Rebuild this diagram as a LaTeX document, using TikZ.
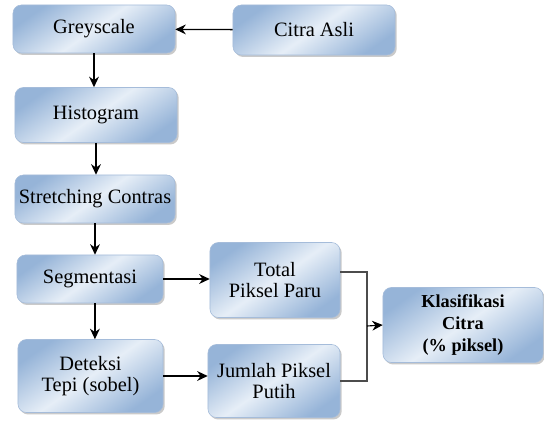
\documentclass[tikz,border=0pt]{standalone}
\usepackage{fontspec}
\setmainfont{Liberation Serif}
\usetikzlibrary{arrows.meta,shadows}
\definecolor{edgeblue}{RGB}{150,180,216}
\definecolor{paleblue}{RGB}{230,238,247}
\definecolor{rimblue}{RGB}{165,188,218}

\begin{document}
\begin{tikzpicture}[
    x=0.025cm, y=-0.025cm,
    block/.style={rectangle, rounded corners=6pt, draw=rimblue, line width=0.4pt,
        top color=edgeblue, bottom color=edgeblue, middle color=paleblue, shading angle=35,
        drop shadow={shadow xshift=1.2pt, shadow yshift=-1.4pt, opacity=0.35, fill=black!60},
        align=center, inner sep=0pt, font=\fontsize{14.5}{15.5}\selectfont},
    arrow/.style={-{Stealth[length=7.5pt,width=7pt]}, line width=0.9pt},
    link/.style={line width=0.8pt, draw=black!70}
]
    \useasboundingbox (0,0) rectangle (544,420);

    % Main column
    \node[block, minimum width=4.05cm, minimum height=1.2cm] (grey) at (94,29) {Greyscale};
    \node[block, minimum width=4.05cm, minimum height=1.25cm] (asli) at (314,30) {Citra Asli};
    \node[block, minimum width=4.05cm, minimum height=1.375cm] (hist) at (96,115) {Histogram};
    \node[block, minimum width=4.0cm, minimum height=1.2cm] (stretch) at (95,199) {Stretching Contras};
    \node[block, minimum width=3.65cm, minimum height=1.2cm] (segm) at (90,279) {Segmentasi};
    \node[block, minimum width=3.625cm, minimum height=1.825cm] (tepi) at (90.5,376) {Deteksi\\Tepi (sobel)};

    % Counting and classification
    \node[block, minimum width=3.25cm, minimum height=1.875cm] (paru) at (275,280) {Total\\Piksel Paru};
    \node[block, minimum width=3.3cm, minimum height=1.825cm] (putih) at (274,381) {Jumlah Piksel\\Putih};
    \node[block, minimum width=4.0cm, minimum height=1.875cm,
        font=\fontsize{13}{15.5}\selectfont\bfseries] (klas) at (463,325) {Klasifikasi\\Citra\\(\% piksel)};

    \coordinate (merge) at (367,326);

    \draw[arrow] (asli) -- (grey);
    \draw[arrow] (grey.south) -- (grey.south |- hist.north);
    \draw[arrow] (hist.south) -- (hist.south |- stretch.north);
    \draw[arrow] (stretch.south) -- (stretch.south |- segm.north);
    \draw[arrow] ([xshift=3.5pt]segm.south) -- ([xshift=3.5pt]segm.south |- tepi.north);
    \draw[arrow] (segm.east) -- (segm.east -| paru.west);
    \draw[arrow] (tepi.east) -- (tepi.east -| putih.west);

    % Elbow into the classifier
    \draw[link] ([yshift=5.7pt]paru.east) -| (merge);
    \draw[link] (putih.east) -| (merge);
    \draw[arrow, line width=0.8pt] (merge) -- (klas.west);
\end{tikzpicture}
\end{document}
